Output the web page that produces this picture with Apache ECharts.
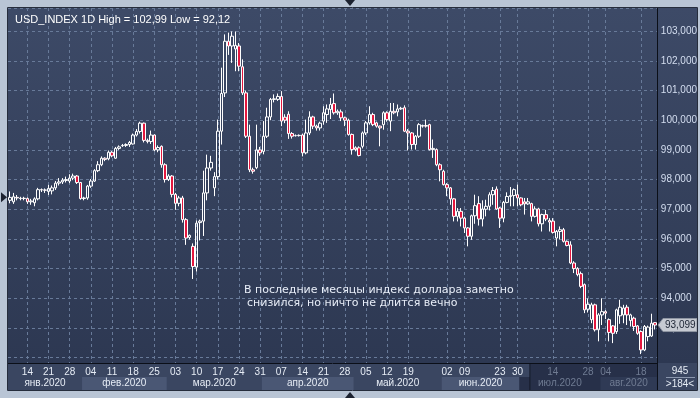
<!DOCTYPE html>
<html>
<head>
<meta charset="utf-8">
<script src="https://cdn.jsdelivr.net/npm/echarts@6/dist/echarts.min.js"></script>
<style>
  html, body { margin: 0; padding: 0; background: #b9c5d5; }
  #chart { width: 700px; height: 398px; }
</style>
</head>
<body>
<div id="chart"></div>
<script>
// ---- данные: [open, close, low, high] по дням ----
const ohlc = [
  // 0
  [97.30, 97.40, 97.20, 97.60], [97.25, 97.42, 97.18, 97.55], [97.40, 97.38, 97.30, 97.48],
  [97.36, 97.37, 97.30, 97.42], [97.37, 97.36, 97.30, 97.42], [97.36, 97.25, 97.18, 97.40],
  [97.25, 97.28, 97.15, 97.35], [97.22, 97.35, 97.10, 97.40], [97.35, 97.66, 97.30, 97.72],
  [97.66, 97.65, 97.58, 97.70], [97.65, 97.64, 97.55, 97.70], [97.60, 97.70, 97.48, 97.82],
  // 12
  [97.62, 97.72, 97.50, 97.80], [97.72, 97.88, 97.65, 97.95], [97.88, 97.92, 97.80, 98.05],
  [97.92, 97.98, 97.85, 98.05], [97.97, 98.00, 97.90, 98.10], [97.95, 98.05, 97.88, 98.18],
  [98.05, 98.12, 97.98, 98.20], [98.12, 97.90, 97.85, 98.15], [97.90, 97.36, 97.32, 97.92],
  [97.36, 97.38, 97.30, 97.42], [97.38, 97.78, 97.32, 97.82], [97.78, 97.95, 97.72, 98.02],
  // 24
  [97.95, 98.30, 97.92, 98.35], [98.30, 98.50, 98.25, 98.62], [98.50, 98.72, 98.45, 98.78],
  [98.72, 98.68, 98.62, 98.75], [98.70, 98.92, 98.65, 98.98], [98.92, 98.80, 98.75, 98.96],
  [98.72, 99.05, 98.70, 99.10], [99.05, 99.10, 99.00, 99.15], [99.14, 99.15, 99.10, 99.20],
  [99.15, 99.18, 99.10, 99.22], [99.18, 99.25, 99.10, 99.30], [99.20, 99.50, 99.18, 99.55],
  // 36
  [99.50, 99.62, 99.45, 99.70], [99.62, 99.90, 99.55, 99.95], [99.90, 99.32, 99.25, 99.92],
  [99.32, 99.28, 99.22, 99.38], [99.28, 99.50, 99.20, 99.65], [99.50, 99.00, 98.95, 99.52],
  [99.00, 99.08, 98.92, 99.15], [99.12, 98.50, 98.40, 99.15], [98.50, 98.00, 97.90, 98.55],
  [98.00, 98.12, 97.95, 98.18], [98.12, 97.50, 97.40, 98.15], [97.50, 97.20, 96.98, 97.55],
  // 48
  [97.20, 97.38, 97.10, 97.45], [97.38, 96.65, 96.55, 97.45], [96.65, 96.03, 95.80, 96.70],
  [96.05, 96.12, 95.98, 96.15], [95.75, 95.07, 94.65, 95.85], [95.05, 96.53, 94.90, 96.62],
  [96.55, 96.60, 95.95, 96.65], [96.60, 97.55, 96.10, 98.30], [97.55, 98.39, 97.30, 98.84],
  [98.39, 98.58, 98.30, 98.80], [97.72, 98.10, 97.44, 98.25], [98.10, 99.63, 98.00, 100.02],
  // 60
  [99.63, 100.90, 99.18, 101.77], [100.92, 102.66, 100.78, 102.89], [102.66, 102.50, 102.20, 102.95],
  [102.50, 102.83, 101.93, 102.99], [102.40, 102.52, 101.65, 102.99], [102.50, 101.82, 101.65, 102.60],
  [101.80, 100.92, 100.85, 102.05], [100.92, 99.46, 99.40, 101.00], [99.46, 98.33, 98.25, 99.85],
  [98.33, 98.28, 98.20, 98.40], [98.40, 99.00, 98.35, 99.85], [99.00, 98.90, 98.80, 99.10],
  // 72
  [98.95, 99.46, 98.85, 99.97], [99.46, 100.11, 99.40, 100.42], [100.11, 100.70, 100.00, 100.75],
  [100.70, 100.72, 100.60, 100.87], [100.70, 100.80, 100.65, 100.90], [100.80, 99.97, 99.80, 100.98],
  [100.10, 100.00, 99.90, 100.20], [100.20, 99.55, 99.37, 100.30], [99.55, 99.46, 99.38, 99.60],
  [99.48, 99.48, 99.45, 99.52], [99.48, 99.49, 99.45, 99.52], [99.50, 98.90, 98.78, 99.55],
  // 84
  [98.90, 99.57, 98.85, 100.02], [99.57, 100.11, 99.50, 100.30], [100.11, 99.80, 99.70, 100.15],
  [99.80, 99.74, 99.65, 99.85], [99.74, 99.90, 99.65, 99.95], [99.97, 100.25, 99.85, 100.47],
  [100.19, 100.38, 99.91, 100.53], [100.36, 100.53, 100.04, 100.75], [100.56, 100.25, 100.19, 100.90],
  [100.25, 100.30, 100.18, 100.36], [100.28, 100.08, 99.97, 100.36], [100.08, 100.00, 99.80, 100.12],
  // 96
  [100.00, 99.52, 99.48, 100.05], [99.52, 99.01, 98.84, 99.55], [99.07, 99.01, 98.95, 99.12],
  [99.07, 98.81, 98.78, 99.12], [99.12, 99.57, 99.05, 99.62], [99.57, 99.91, 99.50, 99.97],
  [99.91, 100.19, 99.85, 100.47], [100.19, 99.85, 99.80, 100.25], [99.91, 99.80, 99.75, 99.95],
  [99.80, 99.74, 99.12, 99.82], [99.85, 100.25, 99.68, 100.30], [100.25, 100.02, 99.95, 100.30],
  // 108
  [99.97, 100.30, 99.63, 100.58], [100.30, 100.25, 100.20, 100.58], [100.28, 100.38, 100.13, 100.53],
  [100.38, 100.40, 100.35, 100.45], [100.42, 99.63, 99.60, 100.50], [99.63, 99.57, 98.98, 99.70],
  [99.57, 99.18, 99.01, 99.60], [99.18, 99.46, 99.01, 99.50], [99.46, 99.85, 99.40, 99.90],
  [99.80, 99.82, 99.75, 99.85], [99.82, 99.80, 99.75, 100.02], [99.85, 99.01, 98.98, 99.88],
  // 120
  [99.01, 99.05, 98.73, 99.35], [99.01, 98.50, 98.45, 99.05], [98.50, 98.33, 97.94, 98.55],
  [98.28, 97.83, 97.80, 98.33], [97.83, 97.72, 97.44, 97.88], [97.72, 97.35, 97.15, 97.75],
  [97.35, 96.76, 96.59, 97.38], [96.76, 96.93, 96.59, 97.04], [96.93, 96.70, 96.42, 97.04],
  [96.70, 96.37, 96.20, 96.75], [96.37, 96.09, 95.75, 96.40], [96.09, 96.78, 95.97, 96.82],
  // 132
  [96.78, 97.12, 96.51, 97.49], [97.19, 96.67, 96.45, 97.44], [96.67, 97.01, 96.42, 97.30],
  [97.00, 97.10, 96.76, 97.32], [97.10, 97.49, 96.96, 97.57], [97.49, 97.63, 97.15, 97.75],
  [97.68, 97.01, 96.98, 97.77], [97.04, 96.70, 96.37, 97.08], [96.70, 97.23, 96.56, 97.28],
  [97.23, 97.43, 97.20, 97.57], [97.43, 97.46, 97.10, 97.75], [97.46, 97.66, 97.10, 97.70],
  // 144
  [97.49, 97.38, 97.10, 97.83], [97.38, 97.15, 97.10, 97.40], [97.25, 97.18, 96.82, 97.38],
  [97.18, 97.25, 97.15, 97.38], [97.19, 96.76, 96.59, 97.22], [96.76, 97.01, 96.72, 97.10],
  [97.01, 96.51, 96.42, 97.05], [96.51, 96.82, 96.25, 96.85], [96.82, 96.67, 96.60, 96.98],
  [96.62, 96.57, 96.25, 96.70], [96.60, 96.22, 96.18, 96.70], [96.03, 96.25, 95.75, 96.30],
  // 156
  [96.25, 96.31, 95.98, 96.42], [96.31, 95.92, 95.88, 96.37], [95.92, 95.78, 95.75, 95.95],
  [95.80, 95.19, 95.15, 95.92], [95.19, 95.00, 94.85, 95.25], [95.00, 94.80, 94.74, 95.05],
  [94.83, 94.40, 94.34, 94.90], [94.46, 93.61, 93.50, 94.50], [93.63, 93.80, 93.52, 94.00],
  [93.28, 93.78, 93.16, 93.85], [93.78, 92.94, 92.88, 93.82], [92.94, 93.44, 92.55, 93.50],
  // 168
  [93.44, 93.55, 93.10, 94.00], [93.55, 93.50, 93.30, 93.60], [93.28, 92.85, 92.55, 93.32],
  [93.07, 92.82, 92.49, 93.10], [92.88, 93.61, 92.80, 93.65], [93.41, 93.70, 93.14, 93.95],
  [93.44, 93.67, 93.16, 93.78], [93.70, 93.44, 93.10, 93.78], [93.25, 93.44, 93.05, 93.48],
  [93.33, 93.05, 92.90, 93.38], [93.07, 92.82, 92.77, 93.10], [92.88, 92.26, 92.12, 92.92],
  // 180
  [92.26, 93.05, 92.22, 93.10], [92.71, 93.03, 92.55, 93.08], [92.73, 93.16, 92.70, 93.48],
  [93.18, 93.099, 92.95, 93.20]
];

// подписи дней (вторники) на оси X
const dayTicks = [
  '2020-01-14', '2020-01-21', '2020-01-28', '2020-02-04', '2020-02-11', '2020-02-18', '2020-02-25',
  '2020-03-03', '2020-03-10', '2020-03-17', '2020-03-24', '2020-03-31', '2020-04-07', '2020-04-14',
  '2020-04-21', '2020-04-28', '2020-05-05', '2020-05-12', '2020-05-19', '2020-06-02', '2020-06-09',
  '2020-06-23', '2020-06-30', '2020-07-14', '2020-07-28', '2020-08-04', '2020-08-18'
];
const monthNames = ['янв.2020', 'фев.2020', 'мар.2020', 'апр.2020', 'май.2020', 'июн.2020', 'июл.2020', 'авг.2020'];

const titleText = 'USD_INDEX 1D High = 102,99 Low = 92,12';
const noteLines = ['В последние месяцы индекс доллара заметно', 'снизился, но ничто не длится вечно'];
const firstDay = '2020-01-08';
const lastSundayBar = '2020-05-24';   // до этой даты в ряду есть воскресные свечи
const dimFrom = '2020-07-06';         // затемнённая часть шкалы
const barsInfo = ['945', '>184<'];

// даты свечей
function buildDates(n) {
  const out = [];
  const d = new Date(firstDay + 'T00:00:00Z');
  while (out.length < n) {
    const wd = d.getUTCDay();
    const iso = d.toISOString().slice(0, 10);
    if (wd !== 6 && !(wd === 0 && iso > lastSundayBar)) out.push(iso);
    d.setUTCDate(d.getUTCDate() + 1);
  }
  return out;
}
const dates = buildDates(ohlc.length);
const tickSet = new Set(dayTicks);

const GRID = { left: 8, right: 43, top: 8, bottom: 35 };
const fmtPrice = v => v.toFixed(3).replace('.', ',');

const chart = echarts.init(document.getElementById('chart'));

const option = {
  animation: false,
  title: {
    text: titleText, left: 10, top: 9,
    textStyle: { color: '#ffffff', fontSize: 11, fontWeight: 'normal', fontFamily: 'Liberation Sans' }
  },
  grid: GRID,
  xAxis: {
    type: 'category',
    data: dates,
    boundaryGap: true,
    axisLine: { lineStyle: { color: '#0b0f18', width: 1 } },
    axisTick: { show: false },
    axisLabel: {
      interval: (i, v) => tickSet.has(v),
      formatter: v => v.slice(8),
      color: v => (v >= dimFrom ? '#6f7b92' : '#e6ecf5'),
      fontSize: 10,
      fontFamily: 'Liberation Sans',
      margin: 4
    },
    splitLine: {
      show: true,
      interval: (i, v) => tickSet.has(v),
      alignWithLabel: true,
      lineStyle: { color: '#687a99', type: [3, 3], width: 1 }
    }
  },
  yAxis: {
    type: 'value',
    position: 'right',
    min: 91.82,
    max: 103.78,
    splitNumber: 12,
    axisLine: { show: true, lineStyle: { color: '#0b0f18', width: 1 } },
    axisTick: { show: false },
    axisLabel: {
      color: '#d4def0', fontSize: 10, fontFamily: 'Liberation Sans', margin: 4,
      showMinLabel: false, showMaxLabel: false,
      formatter: v => (v < 92.5 ? '' : fmtPrice(v))
    },
    splitLine: { lineStyle: { color: '#687a99', type: [3, 3], width: 1 } }
  },
  series: [{
    type: 'candlestick',
    data: ohlc,
    barWidth: 3,
    z: 3,
    itemStyle: {
      color: 'transparent',
      color0: '#e3173e',
      borderColor: '#ffffff',
      borderColor0: '#ffffff',
      borderColorDoji: '#ffffff',
      borderWidth: 1
    }
  }]
};

chart.setOption(option);

// ---- оформление вокруг графика ----
const xOf = i => chart.convertToPixel({ xAxisIndex: 0 }, dates[i]);
const yOf = v => chart.convertToPixel({ yAxisIndex: 0 }, v);
const bandW = xOf(1) - xOf(0);
const plotRight = 700 - GRID.right;
const plotBottom = 398 - GRID.bottom;
const stripBottom = 390;

const els = [];
// фон панели
els.push({
  type: 'rect', z: -20, silent: true,
  shape: { x: 8, y: 8, width: 689, height: plotBottom - 8 },
  style: { fill: new echarts.graphic.LinearGradient(0, 0, 0, 1, [
    { offset: 0, color: '#3d4a67' }, { offset: 1, color: '#2d3852' }]) }
});
els.push({
  type: 'rect', z: -20, silent: true,
  shape: { x: 8, y: plotBottom, width: 689, height: stripBottom - plotBottom },
  style: { fill: '#3a4661' }
});

// полосы месяцев
const dimIdx = dates.findIndex(d => d >= dimFrom);
const dimX = xOf(dimIdx) - bandW / 2;
monthNames.forEach((name, m) => {
  const mm = String(m + 1).padStart(2, '0');
  let a = -1, b = -1;
  dates.forEach((d, i) => { if (d.slice(5, 7) === mm) { if (a < 0) a = i; b = i; } });
  if (a < 0) return;
  const x0 = Math.max(8, xOf(a) - bandW / 2);
  const x1 = Math.min(plotRight, xOf(b) + bandW / 2);
  const dim = dates[a] >= '2020-07-01';
  let fill = m % 2 === 1 ? '#4a5774' : null;
  if (dim) fill = m % 2 === 1 ? '#2f3a55' : '#273049';
  if (fill) {
    els.push({ type: 'rect', z: -15, silent: true,
      shape: { x: x0, y: 377, width: x1 - x0, height: stripBottom - 377 }, style: { fill } });
  }
  els.push({ type: 'text', z: 5, silent: true, x: (x0 + x1) / 2, y: 383.5,
    style: { text: name, fill: dim ? '#6f7b92' : '#e6ecf5', font: '10px "Liberation Sans"',
      align: 'center', verticalAlign: 'middle' } });
});
// затемнение правой части шкалы
els.push({ type: 'rect', z: -16, silent: true,
  shape: { x: dimX, y: plotBottom, width: plotRight - dimX, height: stripBottom - plotBottom },
  style: { fill: '#273049' } });
els.push({ type: 'line', z: -14, silent: true,
  shape: { x1: dimX, y1: plotBottom, x2: dimX, y2: stripBottom }, style: { stroke: '#141a28', lineWidth: 1 } });

// правый нижний блок
els.push({ type: 'line', z: 2, silent: true,
  shape: { x1: plotRight + 0.5, y1: plotBottom, x2: plotRight + 0.5, y2: stripBottom }, style: { stroke: '#0b0f18' } });
els.push({ type: 'text', z: 5, silent: true, x: 680, y: 371.5,
  style: { text: barsInfo[0], fill: '#e6ecf5', font: '10px "Liberation Sans"', align: 'center', verticalAlign: 'middle' } });
els.push({ type: 'line', z: 5, silent: true,
  shape: { x1: 666, y1: 377.5, x2: 695, y2: 377.5 }, style: { stroke: '#8a96ad' } });
els.push({ type: 'text', z: 5, silent: true, x: 680, y: 384,
  style: { text: barsInfo[1], fill: '#e6ecf5', font: '10px "Liberation Sans"', align: 'center', verticalAlign: 'middle' } });

// метка последней цены
const lastClose = ohlc[ohlc.length - 1][1];
const ly = yOf(lastClose);
els.push({ type: 'polygon', z: 10, silent: true,
  shape: { points: [[plotRight + 1, ly], [plotRight + 6, ly - 6.5], [697, ly - 6.5], [697, ly + 6.5], [plotRight + 6, ly + 6.5]] },
  style: { fill: '#c6cad2', stroke: '#8f96a3', lineWidth: 1 } });
els.push({ type: 'text', z: 11, silent: true, x: plotRight + 8, y: ly,
  style: { text: fmtPrice(lastClose), fill: '#1c2434', font: '10px "Liberation Sans"', verticalAlign: 'middle' } });

// стрелка первой цены слева
const fy = yOf(ohlc[0][1]);
els.push({ type: 'polygon', z: 10, silent: true,
  shape: { points: [[1, fy - 5], [7, fy], [1, fy + 5]] }, style: { fill: '#1c2230' } });
// маркеры сверху и снизу
els.push({ type: 'polygon', z: 10, silent: true,
  shape: { points: [[345, 0], [355, 0], [350, 6]] }, style: { fill: '#1c2230' } });
els.push({ type: 'polygon', z: 10, silent: true,
  shape: { points: [[345, 398], [355, 398], [350, 392]] }, style: { fill: '#1c2230' } });

// текст-комментарий
noteLines.forEach((t, k) => {
  els.push({ type: 'text', z: 8, silent: true, x: k === 0 ? 244 : 247, y: 290 + k * 13,
    style: { text: t, fill: '#e8eef8', font: '11px "DejaVu Sans"', verticalAlign: 'middle' } });
});

// рамка
els.push({ type: 'rect', z: 12, silent: true,
  shape: { x: 7.5, y: 7.5, width: 690, height: stripBottom - 7 },
  style: { fill: 'none', stroke: '#262d3c', lineWidth: 1 } });

chart.setOption({ graphic: { elements: els } });

window.addEventListener('resize', function () { chart.resize(); });
</script>
</body>
</html>
